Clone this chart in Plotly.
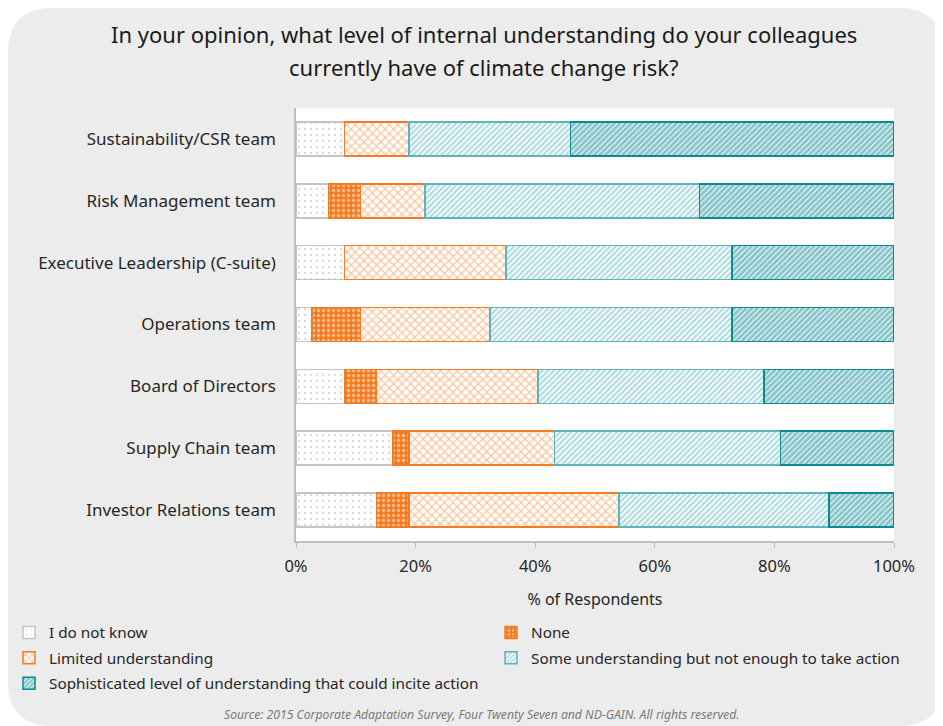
import plotly.graph_objects as go

# rows top to bottom
teams = [
    "Sustainability/CSR team",
    "Risk Management team",
    "Executive Leadership (C-suite)",
    "Operations team",
    "Board of Directors",
    "Supply Chain team",
    "Investor Relations team",
]

# % of respondents
dont_know = [8.1, 5.4, 8.1, 2.7, 8.1, 16.2, 13.5]
none = [0.0, 5.4, 0.0, 8.1, 5.4, 2.7, 5.4]
limited = [10.8, 10.8, 27.0, 21.6, 27.0, 24.3, 35.1]
some = [27.0, 45.9, 37.8, 40.5, 37.8, 37.8, 35.1]
sophisticated = [54.1, 32.4, 27.0, 27.0, 21.6, 18.9, 10.8]

series_names = [
    "I do not know",
    "None",
    "Limited understanding",
    "Some understanding but not enough to take action",
    "Sophisticated level of understanding that could incite action",
]
x_ticks = [0, 20, 40, 60, 80, 100]
x_ticktext = ["0%", "20%", "40%", "60%", "80%", "100%"]

# page body adds an 8px margin, so the figure is 8px smaller each way
W, H = 935, 718
L, R, T, B = 288, 886, 100, 533   # plot area in figure pixels


def px(x):
    return (x - L) / (R - L)


def py(y):
    return (B - y) / (B - T)


ORANGE = "#f47b20"
TEAL = "#0b8a93"

styles = [
    dict(line="#c4c4c4", pat=dict(shape=".", fgcolor="#b5b5b5", bgcolor="white", size=6, solidity=0.12)),
    dict(line=ORANGE, pat=dict(shape=".", fgcolor="white", bgcolor=ORANGE, size=5, solidity=0.35)),
    dict(line=ORANGE, pat=dict(shape="x", fgcolor="#f58a3c", bgcolor="white", size=6, solidity=0.38)),
    dict(line="#5fb3bb", pat=dict(shape="/", fgcolor="#62b7bf", bgcolor="white", size=4, solidity=0.55)),
    dict(line=TEAL, pat=dict(shape="/", fgcolor=TEAL, bgcolor="white", size=4, solidity=0.75)),
]
# left legend column / right legend column
legend_ids = ["legend", "legend2", "legend", "legend2", "legend"]

fig = go.Figure()
for i, (name, vals, st) in enumerate(zip(series_names, [dont_know, none, limited, some, sophisticated], styles)):
    fig.add_trace(go.Bar(
        y=teams,
        x=vals,
        name=name,
        orientation="h",
        width=0.55,
        legend=legend_ids[i],
        legendgroup="g%d" % i,
        marker=dict(color="white", pattern=st["pat"], line=dict(color=st["line"], width=1.5)),
    ))

font = "Noto Sans, DejaVu Sans, sans-serif"


def rounded(x0, y0, x1, y1, r):
    # rounded rectangle path in paper coordinates, input in pixels
    pts = [
        ("M", [(x0 + r, y0)]),
        ("L", [(x1 - r, y0)]),
        ("Q", [(x1, y0), (x1, y0 + r)]),
        ("L", [(x1, y1 - r)]),
        ("Q", [(x1, y1), (x1 - r, y1)]),
        ("L", [(x0 + r, y1)]),
        ("Q", [(x0, y1), (x0, y1 - r)]),
        ("L", [(x0, y0 + r)]),
        ("Q", [(x0, y0), (x0 + r, y0)]),
    ]
    out = []
    for cmd, ps in pts:
        out.append(cmd + " " + " ".join("%.5f,%.5f" % (px(a), py(b)) for a, b in ps))
    return " ".join(out) + " Z"


legend_common = dict(
    xanchor="left", yanchor="top",
    font=dict(size=15.3, color="#262626"), tracegroupgap=2.5,
    bgcolor="rgba(0,0,0,0)", traceorder="grouped",
)

fig.update_layout(
    width=W, height=H,
    margin=dict(l=L, r=W - R, t=T, b=H - B, pad=0, autoexpand=False),
    barmode="stack",
    paper_bgcolor="white",
    plot_bgcolor="white",
    font=dict(family=font, size=15, color="#262626"),
    xaxis=dict(
        range=[0, 100], tickvals=x_ticks, ticktext=x_ticktext,
        showgrid=False, zeroline=False, automargin=False,
        showline=True, linecolor="#c0c0c0", linewidth=1.5,
        ticks="outside", ticklen=5, tickcolor="#c0c0c0",
        tickfont=dict(size=16.5), ticklabelstandoff=4,
        title=dict(text="% of Respondents", standoff=18, font=dict(size=16)),
    ),
    yaxis=dict(
        autorange="reversed", showgrid=False, zeroline=False, automargin=False,
        showline=True, linecolor="#c0c0c0", linewidth=1.5,
        ticks="", ticklabelstandoff=15, tickfont=dict(size=17),
    ),
    legend=dict(x=px(1), y=py(608), **legend_common),
    legend2=dict(x=px(483), y=py(608), **legend_common),
    shapes=[
        dict(type="path", xref="paper", yref="paper", layer="below",
             path=rounded(0, 0, 935, 718, 45),
             fillcolor="#ececec", line=dict(width=0)),
        dict(type="rect", xref="paper", yref="paper", layer="below",
             x0=0, x1=1, y0=0, y1=1, fillcolor="white", line=dict(width=0)),
    ],
    annotations=[
        dict(text="In your opinion, what level of internal understanding do your colleagues",
             x=px(476), y=py(26), xref="paper", yref="paper", showarrow=False,
             xanchor="center", yanchor="middle",
             font=dict(size=22, color="#1a1a1a")),
        dict(text="currently have of climate change risk?",
             x=px(476), y=py(59), xref="paper", yref="paper", showarrow=False,
             xanchor="center", yanchor="middle",
             font=dict(size=22, color="#1a1a1a")),
        dict(text="<i>Source: 2015 Corporate Adaptation Survey, Four Twenty Seven and ND-GAIN. All rights reserved.</i>",
             x=px(473), y=py(706), xref="paper", yref="paper", showarrow=False,
             xanchor="center", yanchor="middle",
             font=dict(size=12.2, color="#7a7a7a")),
    ],
)

fig.write_html("out.html")
